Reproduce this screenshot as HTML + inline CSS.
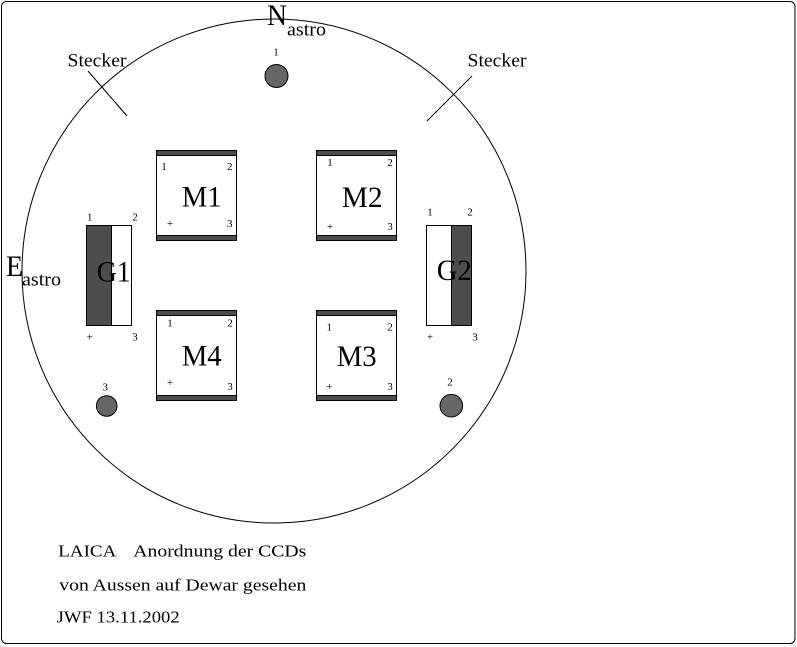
<!DOCTYPE html>
<html>
<head>
<meta charset="utf-8">
<style>
html,body{margin:0;padding:0;background:#fff;}
svg{display:block;}
text{font-family:"Liberation Serif","DejaVu Serif",serif;fill:#000;}
.s{font-size:11px;text-anchor:middle;}
.big{font-size:30px;}
.mid{font-size:19px;}
.bot{font-size:17px;}
</style>
</head>
<body>
<svg width="797" height="647" viewBox="0 0 797 647" xmlns="http://www.w3.org/2000/svg">
  <rect x="0" y="0" width="797" height="647" fill="#fff"/>
  <!-- outer frame -->
  <rect x="1.5" y="1.5" width="793.5" height="642" rx="5" ry="5" fill="none" stroke="#000" stroke-width="1"/>

  <!-- main circle -->
  <circle cx="274" cy="271" r="252" fill="none" stroke="#000" stroke-width="1"/>

  <!-- Stecker lines -->
  <line x1="88" y1="71" x2="127" y2="116" stroke="#000" stroke-width="1"/>
  <line x1="472" y1="76" x2="427" y2="121" stroke="#000" stroke-width="1"/>

  <text x="67.5" y="66.5" class="mid" textLength="59" lengthAdjust="spacingAndGlyphs">Stecker</text>
  <text x="467.5" y="66.5" class="mid" textLength="59" lengthAdjust="spacingAndGlyphs">Stecker</text>

  <!-- N astro -->
  <text x="267" y="25" class="big" textLength="20" lengthAdjust="spacingAndGlyphs">N</text>
  <text x="287" y="35.5" class="mid" textLength="39" lengthAdjust="spacingAndGlyphs">astro</text>

  <!-- E astro -->
  <text x="6" y="276" class="big" textLength="17" lengthAdjust="spacingAndGlyphs">E</text>
  <text x="22" y="285.7" class="mid" textLength="39" lengthAdjust="spacingAndGlyphs">astro</text>

  <!-- holes -->
  <circle cx="276.5" cy="76" r="11.5" fill="#666" stroke="#000" stroke-width="1"/>
  <text x="276" y="55.7" class="s">1</text>
  <circle cx="106.7" cy="406" r="10.3" fill="#666" stroke="#000" stroke-width="1"/>
  <text x="105.3" y="390.7" class="s">3</text>
  <circle cx="451.3" cy="405.7" r="11.3" fill="#666" stroke="#000" stroke-width="1"/>
  <text x="450" y="385.7" class="s">2</text>

  <!-- M1 -->
  <rect x="156.5" y="150.5" width="80" height="90" fill="#fff" stroke="#000"/>
  <rect x="156.5" y="150.5" width="80" height="5" fill="#4d4d4d" stroke="#000"/>
  <rect x="156.5" y="235.5" width="80" height="5" fill="#4d4d4d" stroke="#000"/>
  <text x="181.7" y="206.7" class="big" textLength="40" lengthAdjust="spacingAndGlyphs">M1</text>
  <text x="164" y="170" class="s">1</text>
  <text x="229.7" y="170" class="s">2</text>
  <text x="170" y="227" class="s">+</text>
  <text x="229.7" y="227" class="s">3</text>

  <!-- M2 -->
  <rect x="316.5" y="150.5" width="80" height="90" fill="#fff" stroke="#000"/>
  <rect x="316.5" y="150.5" width="80" height="5" fill="#4d4d4d" stroke="#000"/>
  <rect x="316.5" y="235.5" width="80" height="5" fill="#4d4d4d" stroke="#000"/>
  <text x="341.7" y="207" class="big" textLength="41" lengthAdjust="spacingAndGlyphs">M2</text>
  <text x="330" y="166" class="s">1</text>
  <text x="390" y="166" class="s">2</text>
  <text x="330" y="230" class="s">+</text>
  <text x="390" y="230" class="s">3</text>

  <!-- M4 -->
  <rect x="156.5" y="310.5" width="80" height="90" fill="#fff" stroke="#000"/>
  <rect x="156.5" y="310.5" width="80" height="5" fill="#4d4d4d" stroke="#000"/>
  <rect x="156.5" y="395.5" width="80" height="5" fill="#4d4d4d" stroke="#000"/>
  <text x="181.7" y="365.7" class="big" textLength="40" lengthAdjust="spacingAndGlyphs">M4</text>
  <text x="170" y="326.5" class="s">1</text>
  <text x="230" y="326.5" class="s">2</text>
  <text x="170" y="386" class="s">+</text>
  <text x="230" y="390" class="s">3</text>

  <!-- M3 -->
  <rect x="316.5" y="310.5" width="80" height="90" fill="#fff" stroke="#000"/>
  <rect x="316.5" y="310.5" width="80" height="5" fill="#4d4d4d" stroke="#000"/>
  <rect x="316.5" y="395.5" width="80" height="5" fill="#4d4d4d" stroke="#000"/>
  <text x="336.7" y="366" class="big" textLength="40" lengthAdjust="spacingAndGlyphs">M3</text>
  <text x="329.3" y="330.5" class="s">1</text>
  <text x="390" y="330.5" class="s">2</text>
  <text x="329.3" y="390" class="s">+</text>
  <text x="390" y="390" class="s">3</text>

  <!-- G1 -->
  <rect x="86.5" y="225.5" width="45" height="100" fill="#fff" stroke="#000"/>
  <rect x="86.5" y="225.5" width="25" height="100" fill="#4d4d4d" stroke="#000"/>
  <text x="96.7" y="281.7" class="big" textLength="34" lengthAdjust="spacingAndGlyphs">G1</text>
  <text x="89.7" y="220.5" class="s">1</text>
  <text x="135" y="220.5" class="s">2</text>
  <text x="89.7" y="340.7" class="s">+</text>
  <text x="135" y="340.7" class="s">3</text>

  <!-- G2 -->
  <rect x="426.5" y="225.5" width="45" height="100" fill="#fff" stroke="#000"/>
  <rect x="451.5" y="225.5" width="20" height="100" fill="#4d4d4d" stroke="#000"/>
  <text x="436.7" y="280" class="big" textLength="35" lengthAdjust="spacingAndGlyphs">G2</text>
  <text x="430" y="215.5" class="s">1</text>
  <text x="470" y="215.5" class="s">2</text>
  <text x="430" y="340.5" class="s">+</text>
  <text x="475" y="340.5" class="s">3</text>

  <!-- bottom text -->
  <text x="58.3" y="556.7" class="bot" textLength="58" lengthAdjust="spacingAndGlyphs">LAICA</text>
  <text x="133.3" y="556.7" class="bot" textLength="173" lengthAdjust="spacingAndGlyphs">Anordnung der CCDs</text>
  <text x="59.3" y="590.5" class="bot" textLength="247" lengthAdjust="spacingAndGlyphs">von Aussen auf Dewar gesehen</text>
  <text x="56.7" y="622.3" class="bot" textLength="123" lengthAdjust="spacingAndGlyphs">JWF 13.11.2002</text>
</svg>
</body>
</html>
